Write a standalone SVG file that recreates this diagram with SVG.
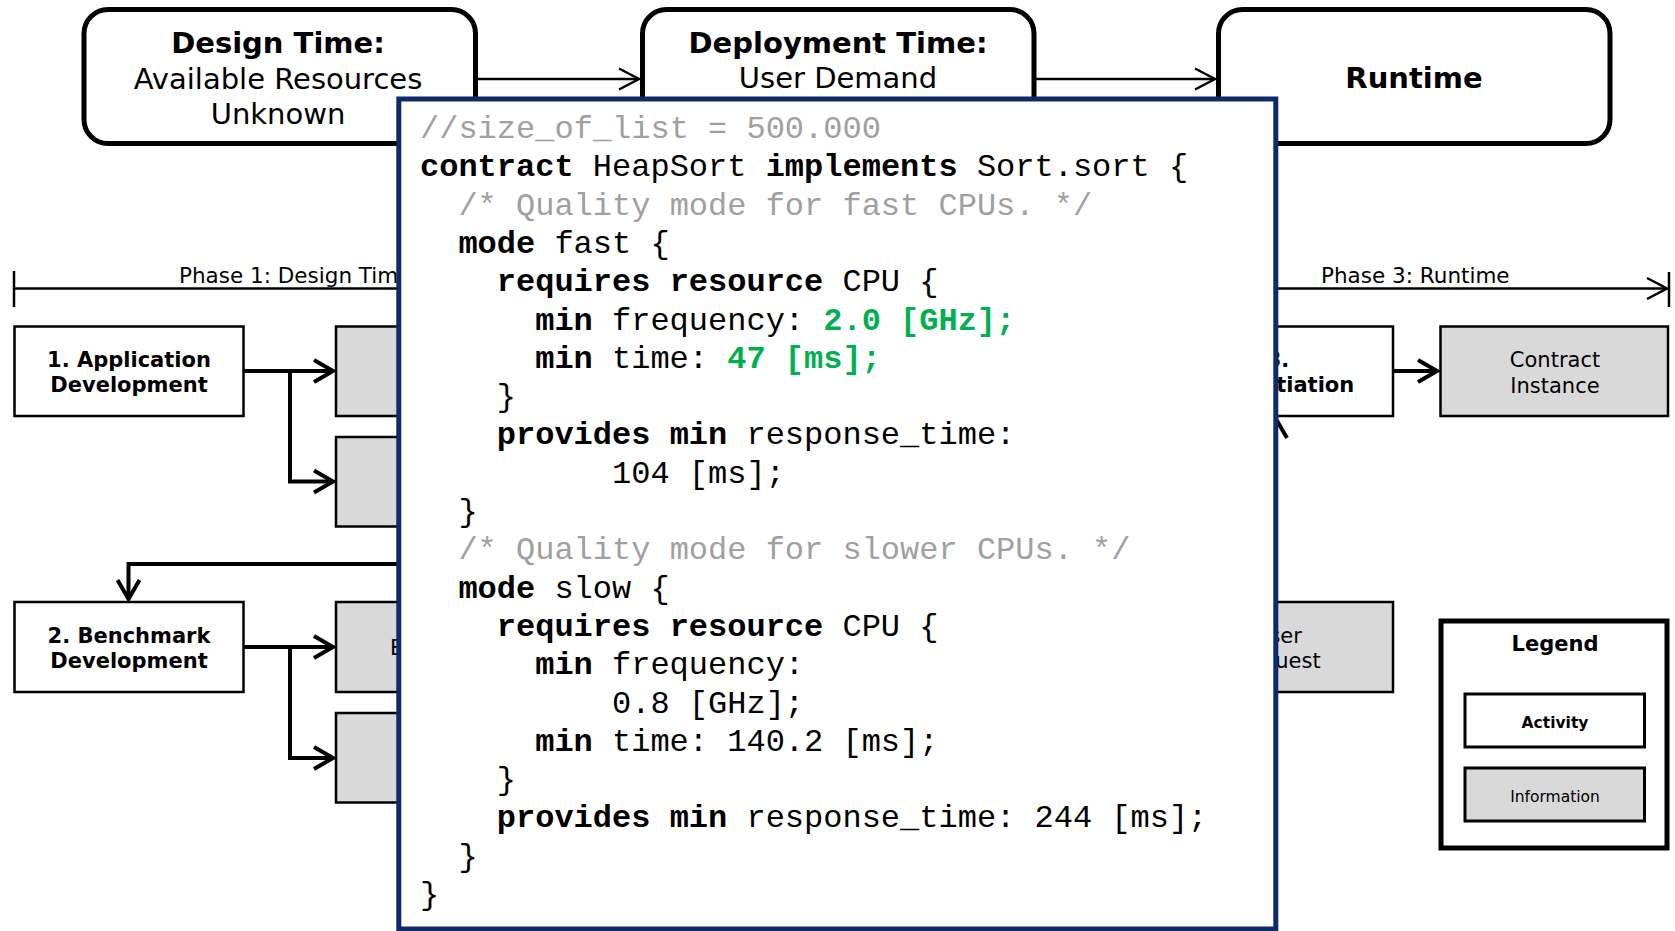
<svg xmlns="http://www.w3.org/2000/svg" width="1675" height="931" viewBox="0 0 1675 931">
  <defs>
    <style>
      .stage { fill: #ffffff; stroke: #000000; stroke-width: 5; }
      .act { fill: #ffffff; stroke: #000000; stroke-width: 2.5; }
      .info { fill: #d9d9d9; stroke: #000000; stroke-width: 2.5; }
      .legend { fill: #ffffff; stroke: #000000; stroke-width: 5; }
      .legend-item-act { fill: #ffffff; stroke: #000000; stroke-width: 3; }
      .legend-item-info { fill: #d9d9d9; stroke: #000000; stroke-width: 3; }
      .conn { fill: none; stroke: #000000; stroke-width: 4; }
      .thin { fill: none; stroke: #000000; stroke-width: 2.5; }
      .sans { font-family: "DejaVu Sans", Verdana, sans-serif; fill: #000000; }
      .big { font-size: 29px; text-anchor: middle; }
      .mid { font-size: 21px; text-anchor: middle; }
      .phase { font-size: 21.5px; }
      .small { font-size: 15.5px; text-anchor: middle; }
      .b { font-weight: bold; }
      .codebox { fill: #ffffff; stroke: #0d2a69; stroke-width: 5; }
      .code { font-family: "Liberation Mono", "Courier New", monospace; font-size: 32px; fill: #000000; }
      .kw { font-weight: bold; }
      .cm { fill: #a0a0a0; }
      .val { fill: #00b050; font-weight: bold; }
    </style>
    <marker id="chev" markerUnits="userSpaceOnUse" orient="auto" markerWidth="28" markerHeight="30" viewBox="0 0 28 30" refX="23" refY="15">
      <path d="M4,4 L23,15 L4,26" fill="none" stroke="#000000" stroke-width="4"/>
    </marker>
    <marker id="chevThin" markerUnits="userSpaceOnUse" orient="auto" markerWidth="26" markerHeight="28" viewBox="0 0 26 28" refX="22" refY="14">
      <path d="M2,3.5 L22,14 L2,24.5" fill="none" stroke="#000000" stroke-width="2.5"/>
    </marker>
  </defs>

  <!-- timeline stages -->
  <g id="stage-design">
    <rect class="stage" x="84" y="9.5" width="391.5" height="134" rx="24"/>
    <text class="sans big b" x="278" y="53">Design Time:</text>
    <text class="sans big" x="278" y="88.5">Available Resources</text>
    <text class="sans big" x="278" y="123.5">Unknown</text>
  </g>
  <g id="stage-deployment">
    <rect class="stage" x="642.5" y="9.5" width="391.5" height="134" rx="24"/>
    <text class="sans big b" x="838" y="53">Deployment Time:</text>
    <text class="sans big" x="838" y="88">User Demand</text>
  </g>
  <g id="stage-runtime">
    <rect class="stage" x="1218.5" y="9.5" width="391.5" height="134" rx="24"/>
    <text class="sans big b" x="1414" y="88">Runtime</text>
  </g>

  <!-- phase axis -->
  <g id="phase-axis">
    <line class="thin" x1="14" y1="288.5" x2="1667" y2="288.5" marker-end="url(#chevThin)"/>
    <line class="thin" x1="14" y1="271" x2="14" y2="307"/>
    <line class="thin" x1="1669" y1="272" x2="1669" y2="307"/>
    <text class="sans phase" x="179" y="282.5">Phase 1: Design Time</text>
    <text class="sans phase" x="1321" y="282.5">Phase 3: Runtime</text>
  </g>

  <!-- activities and artefacts -->
  <g id="app-dev">
    <rect class="act" x="14.5" y="326.5" width="229" height="89.5"/>
    <text class="sans mid b" x="129" y="366.5">1. Application</text>
    <text class="sans mid b" x="129" y="391.5">Development</text>
  </g>
  <g id="app-artefact-1">
    <rect class="info" x="336" y="326.5" width="230" height="89.5"/>
  </g>
  <g id="app-artefact-2">
    <rect class="info" x="336" y="437" width="230" height="89.5"/>
  </g>
  <g id="bench-dev">
    <rect class="act" x="14.5" y="602" width="229" height="90"/>
    <text class="sans mid b" x="129" y="642.5">2. Benchmark</text>
    <text class="sans mid b" x="129" y="668">Development</text>
  </g>
  <g id="bench-artefact-1">
    <rect class="info" x="336" y="602" width="230" height="90"/>
    <text class="sans" font-size="21" x="390" y="655">B</text>
  </g>
  <g id="bench-artefact-2">
    <rect class="info" x="336" y="713" width="230" height="89.5"/>
  </g>
  <g id="instantiation">
    <rect class="act" x="1163" y="326.5" width="230" height="89.5"/>
    <text class="sans mid b" x="1278" y="366.5">3.</text>
    <text class="sans mid b" x="1278" y="391.5">Instantiation</text>
  </g>
  <g id="user-request">
    <rect class="info" x="1163" y="602" width="230" height="90"/>
    <text class="sans mid" x="1278" y="643">User</text>
    <text class="sans mid" x="1278" y="668">Request</text>
  </g>
  <g id="contract-instance">
    <rect class="info" x="1440.5" y="326.5" width="227.5" height="89.5"/>
    <text class="sans mid" x="1555" y="366.5">Contract</text>
    <text class="sans mid" x="1555" y="392.5">Instance</text>
  </g>

  <!-- connectors -->
  <g id="connectors">
    <line class="thin" x1="477" y1="79" x2="639" y2="79" marker-end="url(#chevThin)"/>
    <line class="thin" x1="1036" y1="79" x2="1215" y2="79" marker-end="url(#chevThin)"/>
    <path class="conn" d="M244,371 L333,371" marker-end="url(#chev)"/>
    <path class="conn" d="M290,371 L290,481.5 L333,481.5" marker-end="url(#chev)"/>
    <path class="conn" d="M244,647 L333,647" marker-end="url(#chev)"/>
    <path class="conn" d="M290,647 L290,758 L333,758" marker-end="url(#chev)"/>
    <path class="conn" d="M400,564 L128.5,564 L128.5,599" marker-end="url(#chev)"/>
    <path class="conn" d="M1276,601 L1276,419" marker-end="url(#chev)"/>
    <path class="conn" d="M1393,371 L1437,371" marker-end="url(#chev)"/>
  </g>

  <!-- legend -->
  <g id="legend">
    <rect class="legend" x="1441" y="621" width="226" height="227"/>
    <text class="sans mid b" x="1555" y="651">Legend</text>
    <rect class="legend-item-act" x="1465" y="694" width="179.5" height="53"/>
    <text class="sans small b" x="1555" y="728">Activity</text>
    <rect class="legend-item-info" x="1465" y="768" width="179.5" height="53"/>
    <text class="sans small" x="1555" y="801.5">Information</text>
  </g>

  <!-- contract listing -->
  <g id="contract-listing">
    <rect class="codebox" x="398.8" y="99" width="877" height="830"/>
    <text class="code cm" x="420" y="138">//size_of_list = 500.000</text>
    <text class="code" x="420" y="176.3"><tspan class="kw">contract</tspan> HeapSort <tspan class="kw">implements</tspan> Sort.sort {</text>
    <text class="code cm" x="458.4" y="214.6">/* Quality mode for fast CPUs. */</text>
    <text class="code" x="458.4" y="252.9"><tspan class="kw">mode</tspan> fast {</text>
    <text class="code" x="496.8" y="291.2"><tspan class="kw">requires</tspan> <tspan class="kw">resource</tspan> CPU {</text>
    <text class="code" x="535.2" y="329.5"><tspan class="kw">min</tspan> frequency: <tspan class="val">2.0 [GHz];</tspan></text>
    <text class="code" x="535.2" y="367.8"><tspan class="kw">min</tspan> time: <tspan class="val">47 [ms];</tspan></text>
    <text class="code" x="496.8" y="406.1">}</text>
    <text class="code" x="496.8" y="444.4"><tspan class="kw">provides</tspan> <tspan class="kw">min</tspan> response_time:</text>
    <text class="code" x="612" y="482.7">104 [ms];</text>
    <text class="code" x="458.4" y="521">}</text>
    <text class="code cm" x="458.4" y="559.3">/* Quality mode for slower CPUs. */</text>
    <text class="code" x="458.4" y="597.6"><tspan class="kw">mode</tspan> slow {</text>
    <text class="code" x="496.8" y="635.9"><tspan class="kw">requires</tspan> <tspan class="kw">resource</tspan> CPU {</text>
    <text class="code" x="535.2" y="674.2"><tspan class="kw">min</tspan> frequency:</text>
    <text class="code" x="612" y="712.5">0.8 [GHz];</text>
    <text class="code" x="535.2" y="750.8"><tspan class="kw">min</tspan> time: 140.2 [ms];</text>
    <text class="code" x="496.8" y="789.1">}</text>
    <text class="code" x="496.8" y="827.4"><tspan class="kw">provides</tspan> <tspan class="kw">min</tspan> response_time: 244 [ms];</text>
    <text class="code" x="458.4" y="865.7">}</text>
    <text class="code" x="420" y="904">}</text>
  </g>
</svg>
